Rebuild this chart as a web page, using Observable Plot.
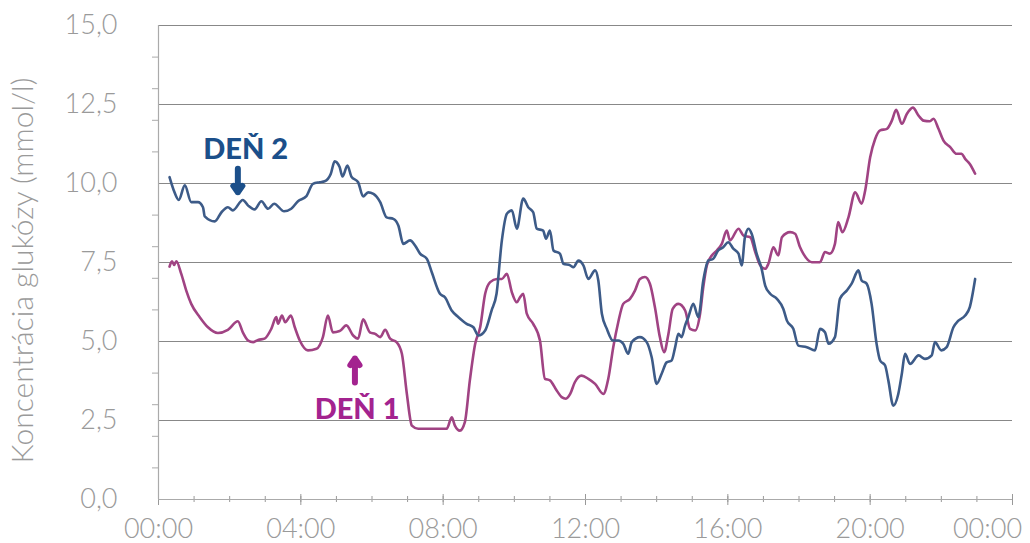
<!DOCTYPE html>
<html>
<head>
<meta charset="utf-8">
<script src="https://cdn.jsdelivr.net/npm/d3@7"></script>
<script src="https://cdn.jsdelivr.net/npm/@observablehq/plot@0.6"></script>
<style>
  html, body { margin: 0; padding: 0; background: #fff; }
  #chart svg { display: block; }
</style>
</head>
<body>
<div id="chart"></div>
<script>
// ---- Data (hours since midnight, glucose mmol/l) ----
const day1Hours = [0.31,0.38,0.44,0.5,0.64,0.78,0.92,1.16,1.39,1.67,1.95,2.23,2.37,2.52,2.66,2.8,2.98,3.17,3.31,3.36,3.47,3.56,3.72,3.83,3.97,4.2,4.44,4.62,4.76,4.9,5.09,5.28,5.47,5.61,5.75,5.94,6.09,6.23,6.37,6.51,6.69,6.84,6.98,7.12,7.3,8.1,8.24,8.33,8.47,8.61,8.75,8.9,9.04,9.18,9.32,9.51,9.65,9.79,9.93,10.07,10.16,10.25,10.35,10.53,10.72,10.86,11.0,11.19,11.33,11.45,11.57,11.7,11.89,12.08,12.27,12.5,12.64,12.78,12.92,13.06,13.25,13.39,13.53,13.67,13.81,13.95,14.09,14.21,14.33,14.45,14.61,14.8,14.94,15.08,15.22,15.31,15.41,15.55,15.69,15.83,15.97,16.06,16.3,16.44,16.63,16.77,16.91,17.05,17.14,17.28,17.42,17.52,17.75,17.89,18.03,18.12,18.36,18.59,18.73,18.87,19.01,19.1,19.22,19.39,19.58,19.76,19.86,20.0,20.14,20.28,20.47,20.61,20.73,20.89,21.03,21.2,21.36,21.5,21.68,21.78,21.92,22.06,22.25,22.43,22.57,22.67,22.8,22.95];
const day1Values = [7.37,7.54,7.42,7.54,7.14,6.61,6.19,5.77,5.45,5.27,5.37,5.64,5.29,5.03,4.98,5.05,5.09,5.4,5.77,5.56,5.82,5.61,5.82,5.45,5.03,4.72,4.77,5.14,5.82,5.29,5.33,5.51,5.19,5.09,5.7,5.29,5.24,5.14,5.37,5.09,4.98,4.61,3.34,2.34,2.24,2.24,2.6,2.34,2.18,2.45,3.77,4.93,5.45,6.51,6.88,6.98,6.98,7.14,6.56,6.24,6.4,6.51,5.88,5.56,5.03,3.82,3.77,3.45,3.24,3.19,3.34,3.71,3.92,3.82,3.66,3.34,3.82,4.82,5.61,6.19,6.35,6.61,6.98,7.04,6.83,6.09,5.14,4.66,5.24,6.03,6.19,5.98,5.4,5.35,5.88,6.72,7.41,7.72,7.88,8.09,8.51,8.2,8.57,8.35,8.3,7.83,7.41,7.3,7.46,7.98,7.72,8.3,8.46,8.41,7.98,7.78,7.51,7.51,7.83,7.78,8.09,8.78,8.46,8.93,9.72,9.36,9.78,10.83,11.41,11.68,11.73,11.99,12.33,11.89,12.2,12.4,12.15,11.99,11.97,12.05,11.73,11.36,11.15,10.94,10.94,10.78,10.62,10.31];

const day2Hours = [0.31,0.43,0.57,0.74,0.92,1.11,1.25,1.3,1.58,1.77,1.95,2.09,2.37,2.52,2.7,2.89,3.08,3.25,3.53,3.73,3.92,4.15,4.34,4.53,4.67,4.84,4.95,5.09,5.17,5.31,5.42,5.61,5.75,5.89,6.04,6.23,6.41,6.6,6.74,6.88,7.07,7.21,7.35,7.54,7.68,7.91,8.05,8.24,8.43,8.66,8.85,8.99,9.18,9.36,9.5,9.65,9.79,9.93,10.07,10.25,10.39,10.53,10.63,10.81,10.89,11.0,11.1,11.28,11.38,11.57,11.66,11.8,11.94,12.08,12.27,12.36,12.46,12.6,12.77,12.92,13.06,13.2,13.3,13.53,13.72,13.86,14.0,14.14,14.28,14.42,14.52,14.61,14.7,14.8,14.89,15.03,15.17,15.31,15.45,15.59,15.73,15.87,16.01,16.16,16.3,16.39,16.48,16.58,16.67,16.81,16.95,17.05,17.19,17.38,17.56,17.66,17.84,17.98,18.22,18.45,18.59,18.73,18.83,19.01,19.15,19.34,19.48,19.67,19.76,19.9,20.04,20.18,20.28,20.42,20.51,20.65,20.79,20.89,20.98,21.12,21.36,21.54,21.73,21.82,22.0,22.15,22.34,22.48,22.67,22.8,22.95];
const day2Values = [10.2,9.78,9.48,9.94,9.41,9.41,9.25,8.96,8.8,9.09,9.25,9.15,9.48,9.3,9.18,9.44,9.2,9.36,9.12,9.2,9.44,9.59,9.99,10.04,10.07,10.3,10.7,10.52,10.22,10.57,10.22,10.04,9.59,9.72,9.67,9.41,8.93,8.88,8.67,8.09,8.2,8.04,7.78,7.62,7.19,6.51,6.4,5.98,5.77,5.56,5.45,5.19,5.35,5.98,6.51,8.2,9.04,9.15,8.57,9.52,9.25,9.09,8.57,8.51,8.25,8.51,7.88,7.78,7.46,7.41,7.35,7.56,7.41,6.98,7.25,6.93,5.88,5.4,5.03,5.03,4.93,4.61,4.98,5.14,4.98,4.5,3.66,3.98,4.34,4.4,4.82,5.24,5.14,5.51,5.77,6.19,5.77,6.93,7.56,7.62,7.88,7.98,8.14,7.93,7.78,7.41,8.3,8.57,8.41,7.78,7.3,6.77,6.51,6.35,6.03,5.66,5.4,4.87,4.82,4.72,5.4,5.29,4.93,5.14,6.35,6.61,6.83,7.25,6.93,6.83,6.19,4.93,4.4,4.24,3.77,2.97,3.34,3.98,4.61,4.29,4.56,4.45,4.56,4.98,4.72,4.82,5.45,5.66,5.82,6.09,6.98];

const seriesNames = ["DEŇ 1", "DEŇ 2"];
const xTickHours = [0, 4, 8, 12, 16, 20, 24];
const xTickLabels = ["00:00", "04:00", "08:00", "12:00", "16:00", "20:00", "00:00"];
const xMinorHours = d3.range(0, 25, 1);
const yTickValues = [0, 2.5, 5, 7.5, 10, 12.5, 15];
const yTickLabels = ["0,0", "2,5", "5,0", "7,5", "10,0", "12,5", "15,0"];
const yMinorValues = [1, 2, 3, 4, 6, 7, 8, 9, 11, 12, 13, 14];
const yLabel = "Koncentrácia glukózy (mmol/l)";

// annotation anchors (hours, mmol/l)
const labelHours = [5.58, 2.45];
const labelValues = [2.85, 11.08];
const arrowHours = [5.52, 2.23];
const arrowFrom = [3.7, 10.47];
const arrowTo = [4.46, 9.72];

const colors = ["#a04383", "#3d5b88"];
const labelColors = ["#a3238f", "#1b4f8a"];

const day1 = day1Hours.map((h, i) => ({hour: h, value: day1Values[i]}));
const day2 = day2Hours.map((h, i) => ({hour: h, value: day2Values[i]}));
const labels = seriesNames.map((name, i) => ({name, hour: labelHours[i], value: labelValues[i], color: labelColors[i]}));
const arrows = seriesNames.map((name, i) => ({hour: arrowHours[i], from: arrowFrom[i], to: arrowTo[i], color: labelColors[i]}));

const gray = "#9a9a9a";
const xLabelFmt = (d) => xTickLabels[xTickHours.indexOf(d)];
const xLabelOpts = {tickSize: 0, tickPadding: 19, label: null, tickFormat: xLabelFmt, fontSize: 27, fontWeight: 300, color: gray};

const chart = Plot.plot({
  width: 1030,
  height: 543,
  marginLeft: 158,
  marginRight: 18,
  marginTop: 25,
  marginBottom: 44,
  style: {fontFamily: "Lato, 'Open Sans', sans-serif", background: "#fff", overflow: "visible"},
  x: {domain: [0, 24], axis: null, label: null},
  y: {domain: [0, 15], axis: null, label: null},
  marks: [
    // gridlines
    Plot.ruleY(yTickValues.filter(v => v > 0), {stroke: "#888", strokeWidth: 1}),
    // y axis minor ticks
    Plot.axisY({ticks: yMinorValues, tickSize: 6, text: null, label: null, stroke: "#aaa"}),
    // y labels
    Plot.axisY({ticks: yTickValues, tickSize: 0, tickPadding: 41, label: null, tickFormat: (d) => yTickLabels[yTickValues.indexOf(d)], fontSize: 27, fontWeight: 300, color: gray}),
    // x axis ticks
    Plot.axisX({ticks: xMinorHours, tickSize: 6, text: null, label: null, stroke: "#999", dy: -3}),
    Plot.axisX({ticks: xTickHours, tickSize: 11, text: null, label: null, stroke: "#999", dy: -5}),
    Plot.axisX({ticks: xTickHours.slice(0, -1), ...xLabelOpts}),
    Plot.axisX({ticks: xTickHours.slice(-1), ...xLabelOpts, dx: -25}),
    // axis lines
    Plot.ruleX([0], {stroke: "#aaa", strokeWidth: 1.2}),
    Plot.ruleY([0], {stroke: "#aaa", strokeWidth: 1.2}),
    // y label
    Plot.text([yLabel], {frameAnchor: "left", textAnchor: "middle", dx: -135, dy: 8, rotate: -90, fontSize: 30, fontWeight: 300, fill: gray, text: d => d}),
    // lines
    Plot.line(day1, {x: "hour", y: "value", stroke: colors[0], strokeWidth: 2.6, curve: "monotone-x"}),
    Plot.line(day2, {x: "hour", y: "value", stroke: colors[1], strokeWidth: 2.6, curve: "monotone-x"}),
    // annotations
    Plot.arrow(arrows, {x: "hour", y1: "from", y2: "to", stroke: "color", strokeWidth: 6, headLength: 10, headAngle: 70}),
    Plot.text(labels, {x: "hour", y: "value", text: "name", fill: "color", fontSize: 29, fontWeight: 900, fontFamily: "Lato, sans-serif"})
  ]
});
document.getElementById("chart").appendChild(chart);
</script>
</body>
</html>
